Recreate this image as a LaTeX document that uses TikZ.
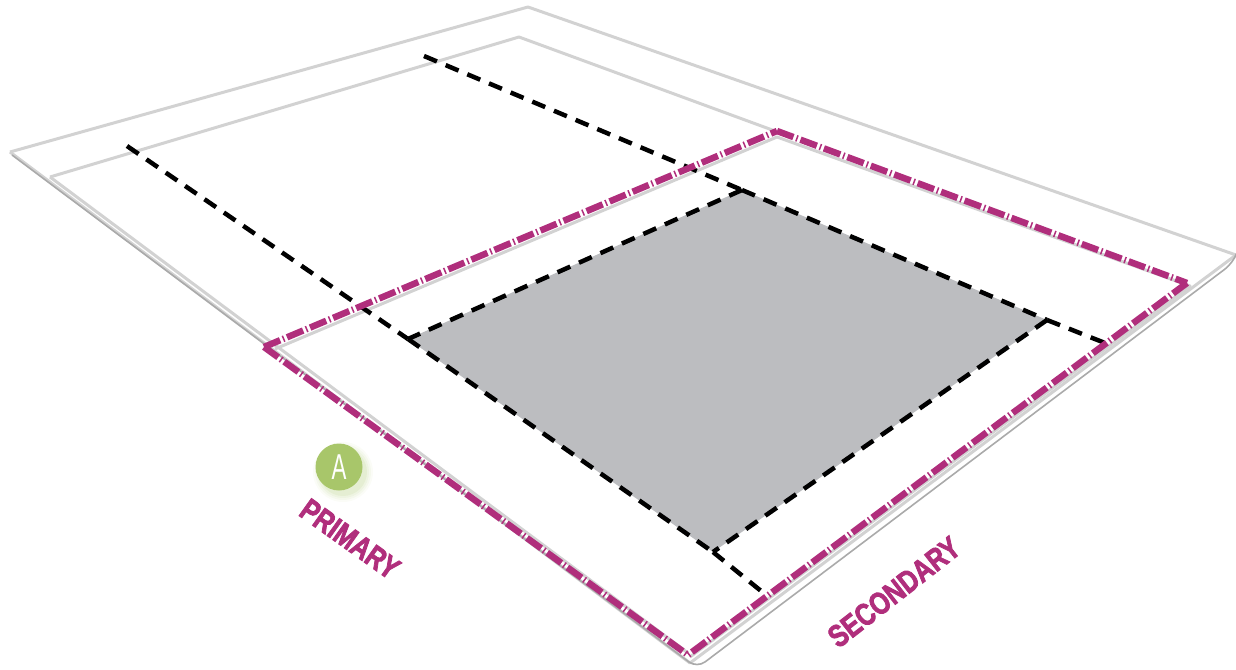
\documentclass[tikz,border=0pt]{standalone}
\usepackage{xcolor}
\usepackage{fontspec}
\setmainfont{Liberation Sans}
\definecolor{courtgray}{RGB}{210, 210, 210}
\definecolor{edgegray}{RGB}{170, 170, 170}
\definecolor{zonegray}{RGB}{188, 189, 192}
\definecolor{primarypurple}{RGB}{176, 46, 124}
\definecolor{badgegreen}{RGB}{168, 198, 106}
\newcommand{\zonetext}[1]{\special{pdf:code 2 Tr 0.9 w}\scalebox{.8}[1]{#1}\special{pdf:code 0 Tr}}
\newcommand{\badgetext}[1]{\scalebox{.62}[1]{#1}}
\tikzset{
    courtline/.style={draw=courtgray, line width=3pt, line join=round},
    edgeline/.style={draw=edgegray, line width=1.6pt, line join=round},
    zoneline/.style={draw=primarypurple, line width=6.5pt, dash pattern=on 17.5pt off 3pt on 1.5pt off 3pt},
    blackdash/.style={draw=black, line width=4.5pt, dash pattern=on 14pt off 9.5pt},
    zonelabel/.style={text=primarypurple, inner sep=0pt, font=\bfseries\fontsize{31}{31}\selectfont}
}
\begin{document}
\begin{tikzpicture}[x=1pt, y=-1pt]
    \useasboundingbox (0,0) rectangle (1236,669);

    % Court outline
    \draw[courtline] (10,152) -- (528,7) -- (1236,255);
    \draw[courtline] (50,177) -- (519,37) -- (775,131);
    \draw[courtline] (50,177) -- (688,653);
    \draw[courtline] (275,349) -- (777,137) -- (1190,286) -- (690,657);
    \draw[courtline] (10,152) -- (690,663) -- (1236,255);
    \draw[edgeline, rounded corners=10pt] (12,155) -- (697,668) -- (1233,263) -- (1236,255);

    % Grey area
    \fill[zonegray] (408,339) -- (742,190) -- (1047,320) -- (713,552) -- cycle;

    % Black dashes
    \draw[blackdash] (127,146) -- (408,339);
    \draw[blackdash] (408,339) -- (713,552);
    \draw[blackdash] (713,552) -- (766,595);
    \draw[blackdash] (424,56) -- (742,190);
    \draw[blackdash] (742,190) -- (1047,320);
    \draw[blackdash] (1047,320) -- (1105,343);
    \draw[blackdash] (742,190) -- (408,339);
    \draw[blackdash] (1047,320) -- (713,552);

    % Purple zone
    \draw[zoneline] (264,347) -- (777,131);
    \draw[zoneline] (777,131) -- (1187,283);
    \draw[zoneline] (1187,283) -- (688,655);
    \draw[zoneline] (264,347) -- (688,655);

    % Badge
    \foreach \r/\o in {30/.05, 28/.07, 26/.09, 24/.12}
        \fill[badgegreen, opacity=\o] (343,472) circle (\r pt);
    \node[circle, fill=badgegreen, minimum size=47pt, inner sep=0pt, text=white, font=\fontsize{36}{36}\selectfont] (badgeA) at (339,467) {\badgetext{A}};

    % Labels
    \node[zonelabel, rotate=-35.5] (primary) at (350,539) {\zonetext{PRIMARY}};
    \node[zonelabel, rotate=38] (secondary) at (894,592) {\zonetext{SECONDARY}};
\end{tikzpicture}
\end{document}
